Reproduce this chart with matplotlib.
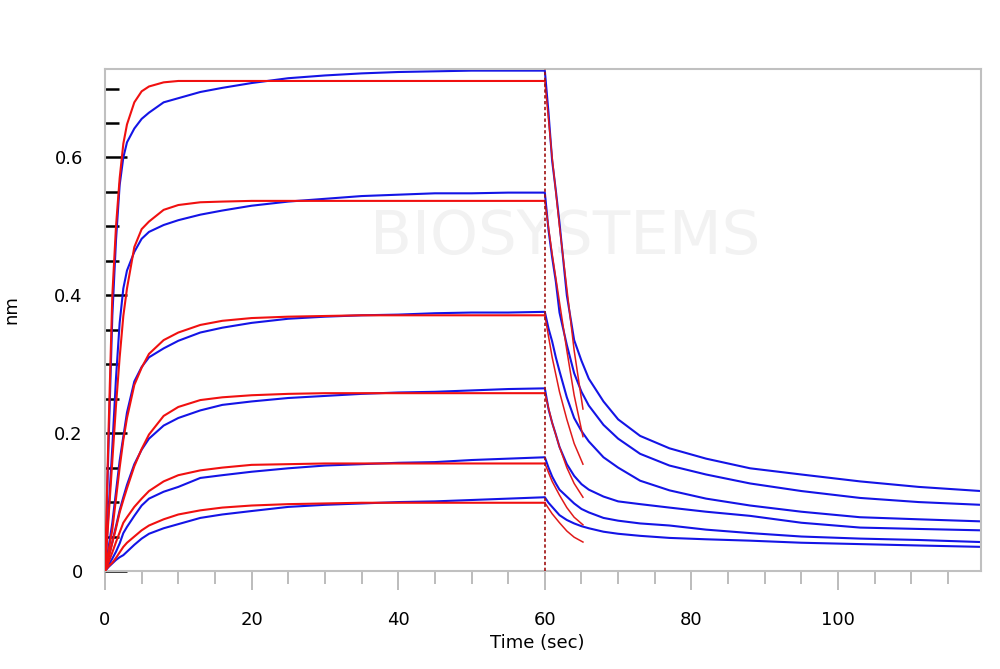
import numpy as np
import matplotlib
matplotlib.use("Agg")
import matplotlib.pyplot as plt
from matplotlib.ticker import MultipleLocator, FixedLocator, FixedFormatter

# time grids (sec)
t_assoc = [0, 0.5, 1, 1.5, 2, 2.5, 3, 4, 5, 6, 8, 10, 13, 16, 20, 25, 30, 35, 40, 45, 50, 55, 60]
t_dissoc = [60, 60.5, 61, 61.5, 62, 63, 64, 65, 66, 68, 70, 73, 77, 82, 88, 95, 103, 111, 119.5]
t_fit_dissoc = [60, 61, 62, 63, 64, 65.2]

# measured response (nm), association phase, one list per concentration
blue_assoc = [
    [0, 0.19, 0.37, 0.48, 0.56, 0.60, 0.622, 0.642, 0.656, 0.665, 0.680, 0.686, 0.695, 0.701, 0.708, 0.715, 0.719, 0.722, 0.724, 0.725, 0.726, 0.726, 0.726],
    [0, 0.09, 0.18, 0.28, 0.36, 0.41, 0.436, 0.463, 0.482, 0.492, 0.502, 0.509, 0.517, 0.523, 0.530, 0.536, 0.540, 0.544, 0.546, 0.548, 0.548, 0.549, 0.549],
    [0, 0.035, 0.07, 0.115, 0.16, 0.195, 0.23, 0.275, 0.296, 0.31, 0.323, 0.334, 0.346, 0.353, 0.360, 0.366, 0.369, 0.371, 0.372, 0.374, 0.375, 0.375, 0.376],
    [0, 0.02, 0.042, 0.065, 0.088, 0.107, 0.125, 0.155, 0.176, 0.192, 0.211, 0.222, 0.233, 0.241, 0.246, 0.251, 0.254, 0.257, 0.259, 0.260, 0.262, 0.264, 0.265],
    [0, 0.009, 0.018, 0.028, 0.04, 0.055, 0.064, 0.08, 0.095, 0.105, 0.115, 0.122, 0.135, 0.139, 0.144, 0.149, 0.153, 0.155, 0.157, 0.158, 0.161, 0.163, 0.165],
    [0, 0.006, 0.011, 0.016, 0.02, 0.023, 0.028, 0.038, 0.047, 0.054, 0.062, 0.068, 0.077, 0.082, 0.087, 0.093, 0.096, 0.098, 0.100, 0.101, 0.103, 0.105, 0.107],
]

# measured response (nm), dissociation phase
blue_dissoc = [
    [0.726, 0.665, 0.595, 0.552, 0.505, 0.40, 0.335, 0.305, 0.279, 0.246, 0.22, 0.196, 0.178, 0.163, 0.149, 0.14, 0.13, 0.122, 0.116],
    [0.549, 0.495, 0.455, 0.42, 0.375, 0.328, 0.287, 0.26, 0.24, 0.212, 0.192, 0.170, 0.153, 0.14, 0.127, 0.116, 0.106, 0.10, 0.096],
    [0.376, 0.352, 0.333, 0.31, 0.29, 0.252, 0.222, 0.203, 0.188, 0.165, 0.15, 0.131, 0.117, 0.105, 0.095, 0.086, 0.078, 0.075, 0.072],
    [0.265, 0.235, 0.215, 0.198, 0.18, 0.155, 0.138, 0.126, 0.118, 0.108, 0.101, 0.097, 0.092, 0.086, 0.08, 0.07, 0.063, 0.061, 0.059],
    [0.165, 0.15, 0.137, 0.127, 0.118, 0.108, 0.098, 0.09, 0.085, 0.077, 0.073, 0.069, 0.066, 0.06, 0.055, 0.05, 0.047, 0.045, 0.042],
    [0.107, 0.099, 0.093, 0.087, 0.081, 0.074, 0.069, 0.065, 0.062, 0.057, 0.054, 0.051, 0.048, 0.046, 0.044, 0.041, 0.039, 0.037, 0.035],
]

# fitted curves (nm)
red_assoc = [
    [0, 0.21, 0.40, 0.50, 0.57, 0.62, 0.648, 0.68, 0.696, 0.703, 0.709, 0.711, 0.711, 0.711, 0.711, 0.711, 0.711, 0.711, 0.711, 0.711, 0.711, 0.711, 0.711],
    [0, 0.08, 0.16, 0.24, 0.31, 0.37, 0.41, 0.47, 0.496, 0.507, 0.524, 0.531, 0.535, 0.536, 0.537, 0.537, 0.537, 0.537, 0.537, 0.537, 0.537, 0.537, 0.537],
    [0, 0.03, 0.06, 0.105, 0.15, 0.19, 0.222, 0.27, 0.295, 0.315, 0.335, 0.346, 0.357, 0.363, 0.367, 0.369, 0.370, 0.371, 0.371, 0.371, 0.371, 0.371, 0.371],
    [0, 0.02, 0.041, 0.062, 0.085, 0.103, 0.12, 0.152, 0.177, 0.198, 0.225, 0.238, 0.248, 0.252, 0.255, 0.257, 0.258, 0.258, 0.258, 0.258, 0.258, 0.258, 0.258],
    [0, 0.013, 0.027, 0.042, 0.056, 0.07, 0.078, 0.093, 0.105, 0.116, 0.13, 0.139, 0.146, 0.15, 0.154, 0.155, 0.156, 0.156, 0.156, 0.156, 0.156, 0.156, 0.156],
    [0, 0.007, 0.012, 0.019, 0.027, 0.035, 0.041, 0.05, 0.059, 0.066, 0.075, 0.082, 0.088, 0.092, 0.095, 0.097, 0.098, 0.099, 0.099, 0.099, 0.099, 0.099, 0.099],
]

red_dissoc = [
    [0.711, 0.60, 0.50, 0.41, 0.32, 0.235],
    [0.537, 0.46, 0.39, 0.32, 0.255, 0.195],
    [0.371, 0.31, 0.26, 0.22, 0.185, 0.155],
    [0.258, 0.215, 0.18, 0.15, 0.127, 0.107],
    [0.156, 0.13, 0.11, 0.092, 0.078, 0.067],
    [0.099, 0.083, 0.07, 0.058, 0.049, 0.042],
]

step_time = 60

fig = plt.figure(figsize=(10, 6.69), dpi=100)
ax = fig.add_axes([0.105, 0.1465, 0.876, 0.7505])

# faint watermark
ax.text(0.525, 0.665, "BIOSYSTEMS", transform=ax.transAxes, fontsize=44,
        color="#f2f2f2", ha="center", va="center", zorder=0)

for y_a, y_d in zip(blue_assoc, blue_dissoc):
    ax.plot(t_assoc + t_dissoc[1:], y_a + y_d[1:], color="#1414e6", lw=1.5, zorder=2)

for y_a, y_d in zip(red_assoc, red_dissoc):
    ax.plot(t_assoc, y_a, color="#f01010", lw=1.5, zorder=3)
    ax.plot(t_fit_dissoc, y_d, color="#e01a1a", lw=1.1, zorder=3)

ax.axvline(step_time, color="#a01010", lw=1.2, ls=(0, (2, 1.5)), zorder=4)

ax.set_xlim(0, 119.5)
ax.set_ylim(0, 0.7285)

for s in ax.spines.values():
    s.set_color("#c0c0c0")
    s.set_linewidth(1.5)

ax.xaxis.set_major_locator(MultipleLocator(20))
ax.xaxis.set_minor_locator(MultipleLocator(5))
ax.tick_params(axis="x", which="major", direction="out", length=14, width=1.2,
               color="#b0b0b0", labelsize=13, pad=15)
ax.tick_params(axis="x", which="minor", direction="out", length=9, width=1.2,
               color="#b0b0b0")

ax.yaxis.set_major_locator(FixedLocator([0, 0.2, 0.4, 0.6]))
ax.yaxis.set_major_formatter(FixedFormatter(["0", "0.2", "0.4", "0.6"]))
ax.yaxis.set_minor_locator(MultipleLocator(0.05))
ax.tick_params(axis="y", which="major", direction="in", length=16, width=1.8,
               color="black", labelsize=13, pad=16)
ax.tick_params(axis="y", which="minor", direction="in", length=10, width=1.8,
               color="black")

ax.set_xlabel("Time (sec)", fontsize=13)
ax.xaxis.set_label_coords(0.493, -0.125)
ax.set_ylabel("nm", fontsize=13)
ax.yaxis.set_label_coords(-0.097, 0.52)

fig.savefig("out.png", dpi=100)
